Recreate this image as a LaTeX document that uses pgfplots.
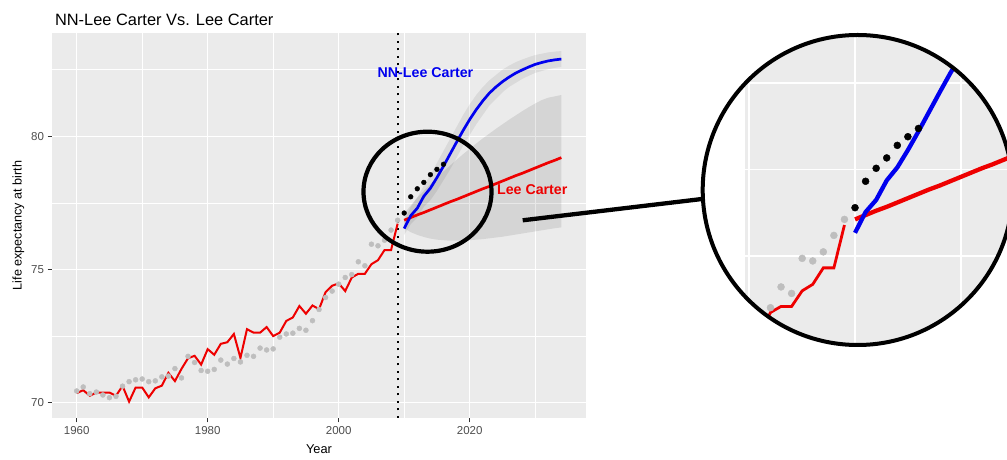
\documentclass[border=0pt]{standalone}
\usepackage{pgfplots}
\pgfplotsset{compat=1.18}
\usepackage{pgfplotstable}
\usepgfplotslibrary{fillbetween}
\usepackage{fontspec}
\setmainfont{Liberation Sans}

\definecolor{panelbg}{HTML}{EBEBEB}
\definecolor{obsgrey}{HTML}{BEBEBE}
\definecolor{tickgrey}{HTML}{4D4D4D}
\definecolor{tickmark}{HTML}{333333}
\definecolor{lcred}{HTML}{EE0000}
\definecolor{nnblue}{HTML}{0000EE}

% observed life expectancy and Lee-Carter fitted values
\pgfplotstableread{
year obs fit
1960 70.44 70.36
1961 70.59 70.47
1962 70.34 70.26
1963 70.40 70.38
1964 70.29 70.38
1965 70.19 70.38
1966 70.24 70.26
1967 70.62 70.63
1968 70.79 70.04
1969 70.86 70.57
1970 70.89 70.57
1971 70.79 70.20
1972 70.82 70.54
1973 70.97 70.64
1974 71.00 71.12
1975 71.28 70.81
1976 70.93 71.27
1977 71.74 71.67
1978 71.51 71.76
1979 71.21 71.43
1980 71.18 72.01
1981 71.25 71.80
1982 71.60 72.21
1983 71.45 72.27
1984 71.66 72.58
1985 71.53 71.68
1986 71.78 72.76
1987 71.74 72.63
1988 72.05 72.63
1989 71.98 72.84
1990 72.02 72.50
1991 72.46 72.63
1992 72.58 73.07
1993 72.61 73.20
1994 72.79 73.63
1995 72.72 73.34
1996 73.08 73.65
1997 73.50 73.51
1998 73.95 74.15
1999 74.19 74.39
2000 74.45 74.48
2001 74.70 74.19
2002 74.81 74.70
2003 75.29 74.84
2004 75.14 74.84
2005 75.95 75.20
2006 75.89 75.35
2007 76.10 75.73
2008 76.48 75.73
2009 76.85 76.72
}\hist

% hold-out observations
\pgfplotstableread{
year obs
2010 77.12
2011 77.73
2012 78.03
2013 78.27
2014 78.56
2015 78.76
2016 78.95
}\test

% forecasts with prediction intervals
\pgfplotstableread{
year nn nnlo nnhi lc lclo lchi
2010 76.54 76.30 76.80 76.85 76.55 77.10
2011 77.02 76.70 77.35 76.95 76.40 77.40
2012 77.30 76.95 77.70 77.05 76.30 77.70
2013 77.75 77.35 78.15 77.14 76.22 77.95
2014 78.05 77.60 78.55 77.24 76.16 78.20
2015 78.45 77.95 79.00 77.34 76.12 78.45
2016 78.88 78.35 79.45 77.44 76.10 78.68
2017 79.33 78.75 79.90 77.54 76.08 78.90
2018 79.78 79.20 80.35 77.63 76.08 79.12
2019 80.22 79.65 80.80 77.73 76.08 79.33
2020 80.63 80.05 81.20 77.83 76.10 79.53
2021 81.00 80.45 81.55 77.93 76.12 79.73
2022 81.33 80.80 81.85 78.03 76.14 79.92
2023 81.62 81.15 82.10 78.12 76.17 80.10
2024 81.85 81.40 82.30 78.22 76.20 80.28
2025 82.05 81.65 82.50 78.32 76.23 80.45
2026 82.22 81.85 82.65 78.42 76.27 80.62
2027 82.37 82.00 82.78 78.52 76.31 80.78
2028 82.49 82.15 82.88 78.61 76.35 80.94
2029 82.60 82.27 82.97 78.71 76.39 81.09
2030 82.70 82.38 83.05 78.81 76.43 81.23
2031 82.77 82.45 83.10 78.91 76.47 81.36
2032 82.83 82.52 83.15 79.01 76.51 81.45
2033 82.87 82.57 83.18 79.10 76.55 81.50
2034 82.90 82.60 83.20 79.20 76.58 81.55
}\fc

\begin{document}
\begin{tikzpicture}[x=1pt,y=1pt]

% main panel
\begin{axis}[
  at={(52pt,42pt)}, anchor=south west, scale only axis,
  width=534pt, height=385pt,
  xmin=1956.23, xmax=2037.76, ymin=69.426, ymax=83.878,
  axis background/.style={fill=panelbg},
  axis line style={draw=none},
  xtick={1960,1980,2000,2020}, minor xtick={1970,1990,2010,2030},
  ytick={70,75,80}, minor ytick={72.5,77.5,82.5},
  grid=both,
  major grid style={white, line width=1.3pt},
  minor grid style={white, line width=0.6pt},
  tick align=outside, tick pos=left,
  major tick length=4.5pt, minor tick length=0pt,
  major tick style={tickmark, line width=1pt},
  minor tick style={draw=none},
  tick label style={font=\fontsize{11.5}{12}\selectfont, text=tickgrey},
  /pgf/number format/assume math mode=true,
  /pgf/number format/1000 sep={},
]
\addplot[name path=lcU, draw=none, forget plot] table[x=year,y=lchi]{\fc};
\addplot[name path=lcL, draw=none, forget plot] table[x=year,y=lclo]{\fc};
\addplot[fill=black, fill opacity=0.09, draw=none] fill between[of=lcU and lcL];
\addplot[name path=nnU, draw=none, forget plot] table[x=year,y=nnhi]{\fc};
\addplot[name path=nnL, draw=none, forget plot] table[x=year,y=nnlo]{\fc};
\addplot[fill=black, fill opacity=0.07, draw=none] fill between[of=nnU and nnL];

% forecast origin
\addplot[black, line width=2pt, dash pattern=on 2pt off 5.5pt] coordinates {(2009,69.426) (2009,83.878)};

\addplot[only marks, mark=*, mark size=2.5pt, obsgrey] table[x=year,y=obs]{\hist};
\addplot[lcred, line width=2pt] table[x=year,y=fit]{\hist};
\addplot[only marks, mark=*, mark size=2.4pt, black] table[x=year,y=obs]{\test};
\addplot[lcred, line width=2.7pt] table[x=year,y=lc]{\fc};
\addplot[nnblue, line width=2.7pt] table[x=year,y=nn]{\fc};

\node[nnblue, font=\bfseries\fontsize{14.2}{14}\selectfont] at (axis cs:2013.25,82.39) {NN-Lee Carter};
\node[lcred, font=\bfseries\fontsize{14.2}{14}\selectfont] at (axis cs:2029.56,78.01) {Lee Carter};
\end{axis}

% titles
\node[anchor=base west, font=\fontsize{16.4}{16}\selectfont] at (51.5,434) {NN-Lee Carter Vs. Lee Carter};
\node[anchor=base, font=\fontsize{12.8}{13}\selectfont] at (319,6.9) {Year};
\node[rotate=90, font=\fontsize{12.6}{13}\selectfont] at (18.3,234.5) {Life expectancy at birth};

% magnified view
\begin{scope}
\clip (857.7,270) circle[radius=155];
\begin{axis}[
  at={(745.1pt,115pt)}, anchor=south west, scale only axis,
  width=267.6pt, height=310pt,
  xmin=1999.6, xmax=2024.92, ymin=73.949, ymax=81.109,
  axis background/.style={fill=panelbg},
  axis line style={draw=none},
  xtick={2000,2010,2020}, ytick={76,78,80},
  xticklabels={}, yticklabels={},
  major tick length=0pt,
  grid=major, major grid style={white, line width=1.7pt},
]
\addplot[only marks, mark=*, mark size=3.5pt, obsgrey] table[x=year,y=obs]{\hist};
\addplot[lcred, line width=2.8pt] table[x=year,y=fit]{\hist};
\addplot[only marks, mark=*, mark size=3.5pt, black] table[x=year,y=obs]{\test};
\addplot[lcred, line width=4.3pt] table[x=year,y=lc]{\fc};
\addplot[nnblue, line width=4.3pt] table[x=year,y=nn]{\fc};
\node[lcred, anchor=west, font=\bfseries\fontsize{23}{23}\selectfont] at (axis cs:2024.21,77.9) {Lee Carter};
\end{axis}
\end{scope}
\draw[line width=4pt] (857.7,270) circle[radius=155];

% zoom marker and connector
\draw[line width=4.2pt] (427.5,268.3) ellipse[x radius=64, y radius=60];
\draw[line width=4.3pt] (522.7,239.7) -- (702,261);

\pgfresetboundingbox
\path[use as bounding box] (0,0) rectangle (1007,460);
\end{tikzpicture}
\end{document}
